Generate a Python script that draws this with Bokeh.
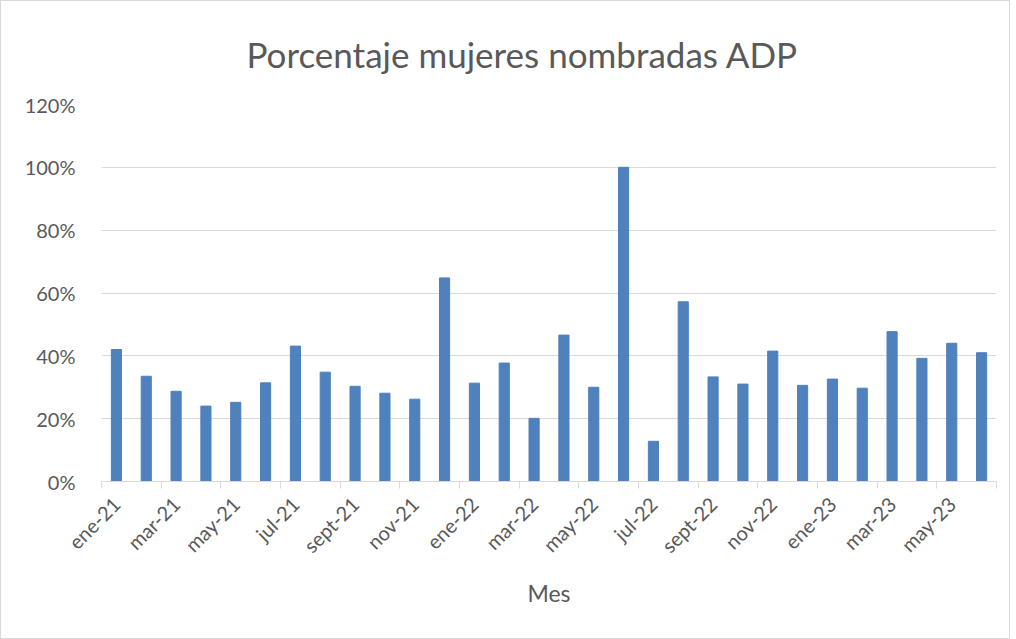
import math
from bokeh.plotting import figure
from bokeh.models import FixedTicker, NumeralTickFormatter, Range1d, Title, ColumnDataSource
from bokeh.embed import file_html
from bokeh.resources import INLINE

months = ["ene-21", "feb-21", "mar-21", "abr-21", "may-21", "jun-21",
          "jul-21", "ago-21", "sept-21", "oct-21", "nov-21", "dic-21",
          "ene-22", "feb-22", "mar-22", "abr-22", "may-22", "jun-22",
          "jul-22", "ago-22", "sept-22", "oct-22", "nov-22", "dic-22",
          "ene-23", "feb-23", "mar-23", "abr-23", "may-23", "jun-23"]
values = [0.420, 0.335, 0.287, 0.240, 0.252, 0.314,
          0.431, 0.348, 0.303, 0.281, 0.262, 0.648,
          0.313, 0.377, 0.201, 0.466, 0.300, 1.000,
          0.128, 0.572, 0.333, 0.310, 0.415, 0.306,
          0.326, 0.297, 0.477, 0.392, 0.440, 0.410]
y_ticks = [0, 0.2, 0.4, 0.6, 0.8, 1.0, 1.2]
title_text = "Porcentaje mujeres nombradas ADP"

FONT = "Lato"
GREY = "#595959"

x = [i + 0.5 for i in range(len(months))]
src = ColumnDataSource(data=dict(x=x, v=values, m=months))

p = figure(width=1010, height=639, output_backend="svg", toolbar_location=None,
           x_range=Range1d(0, len(months)), y_range=Range1d(0, 1.2),
           min_border_left=100, min_border_right=15, min_border_top=100,
           min_border_bottom=159)
p.styles = {"border": "1px solid #d9d9d9"}
p.outline_line_color = None

t = Title(text=title_text, align="left",
          text_font=FONT, text_font_size="35px", text_font_style="normal",
          text_color=GREY, standoff=59, offset=145)
p.add_layout(t, "above")

p.vbar(x="x", top="v", width=0.34, bottom=0, source=src, color="#4f81bd")

# y axis
p.yaxis.ticker = FixedTicker(ticks=y_ticks)
p.yaxis.formatter = NumeralTickFormatter(format="0%")
p.yaxis.axis_line_color = None
p.yaxis.major_tick_line_color = None
p.yaxis.minor_tick_line_color = None
p.yaxis.major_label_text_font = FONT
p.yaxis.major_label_text_font_size = "20px"
p.yaxis.major_label_text_color = GREY
p.yaxis.major_label_standoff = 20

p.ygrid.grid_line_color = "#d9d9d9"
p.ygrid.grid_line_width = 1
p.xgrid.grid_line_color = None

# x axis
label_ticks = [x[i] for i in range(0, len(months), 2)]
p.xaxis.ticker = FixedTicker(ticks=label_ticks,
                             minor_ticks=list(range(0, len(months) + 1, 2)))
p.xaxis.major_label_overrides = {x[i]: months[i] for i in range(0, len(months), 2)}
p.xaxis.major_label_orientation = math.pi / 4
p.xaxis.major_tick_line_color = None
p.xaxis.major_tick_out = 0
p.xaxis.major_tick_in = 0
p.xaxis.minor_tick_line_color = "#d9d9d9"
p.xaxis.minor_tick_out = 7
p.xaxis.minor_tick_in = 0
p.xaxis.axis_line_color = "#d9d9d9"
p.xaxis.major_label_text_font = FONT
p.xaxis.major_label_text_font_size = "20px"
p.xaxis.major_label_text_color = GREY
p.xaxis.major_label_standoff = 12
p.xaxis.axis_label = "Mes"
p.xaxis.axis_label_text_font = FONT
p.xaxis.axis_label_text_font_size = "23px"
p.xaxis.axis_label_text_font_style = "normal"
p.xaxis.axis_label_text_color = GREY
p.xaxis.axis_label_standoff = 10

open("out.html", "w").write(file_html(p, INLINE))
